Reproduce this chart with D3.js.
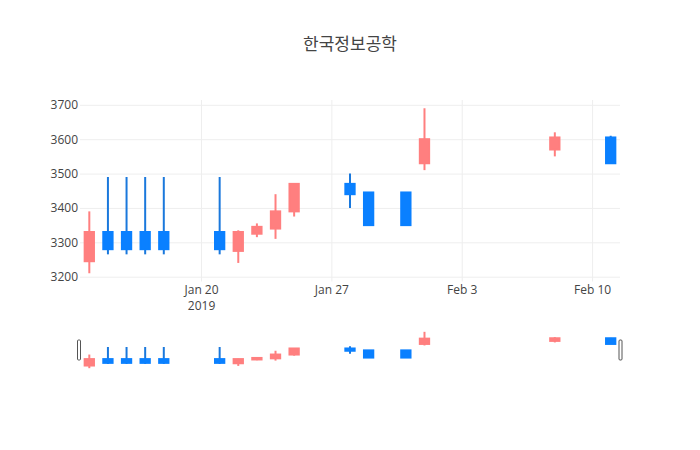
<!DOCTYPE html>
<html>
<head>
<meta charset="utf-8">
<script src="https://cdn.jsdelivr.net/npm/d3@7"></script>
<style>
  body { margin: 0; background: #fff; }
  text { font-family: "Open Sans", verdana, arial, sans-serif; }
</style>
</head>
<body>
<script>
// candlestick data
var dates = ['2019-01-14', '2019-01-15', '2019-01-16', '2019-01-17', '2019-01-18',
  '2019-01-21', '2019-01-22', '2019-01-23', '2019-01-24', '2019-01-25',
  '2019-01-28', '2019-01-29', '2019-01-31', '2019-02-01', '2019-02-08', '2019-02-11'];
var open  = [3245, 3330, 3330, 3330, 3330, 3330, 3275, 3325, 3340, 3390, 3470, 3445, 3445, 3530, 3570, 3605];
var high  = [3390, 3490, 3490, 3490, 3490, 3490, 3335, 3355, 3440, 3470, 3500, 3445, 3445, 3690, 3620, 3610];
var low   = [3210, 3265, 3265, 3265, 3265, 3265, 3240, 3315, 3310, 3375, 3400, 3350, 3350, 3510, 3550, 3530];
var close = [3330, 3280, 3280, 3280, 3280, 3280, 3330, 3345, 3390, 3470, 3440, 3350, 3350, 3600, 3605, 3530];

var xTicks = ['2019-01-20', '2019-01-27', '2019-02-03', '2019-02-10'];
var yTicks = [3200, 3300, 3400, 3500, 3600, 3700];

var width = 700, height = 450;
var margin = {left: 80, right: 80, top: 100};
var plotBottom = 281.5;
var slider = {top: 330, bottom: 370};

var upColor = '#ff7f7f', downLine = '#1a78dc', downFill = '#0a80ff';

var parse = d3.utcParse('%Y-%m-%d');
var data = dates.map(function(d, i) {
  return {date: parse(d), open: open[i], high: high[i], low: low[i], close: close[i]};
});

var day = 864e5;
var xScale = d3.scaleUtc()
  .domain([new Date(+parse(dates[0]) - day / 2), new Date(+parse(dates[dates.length - 1]) + day / 2)])
  .range([margin.left, width - margin.right]);

var yScale = d3.scaleLinear().domain([3186, 3714]).range([plotBottom, margin.top]);
var ySlider = d3.scaleLinear().domain([3186, 3714]).range([slider.bottom, slider.top]);

var svg = d3.select('body').append('svg')
  .attr('width', width)
  .attr('height', height);

// title
svg.append('text')
  .attr('x', width / 2)
  .attr('y', 50)
  .attr('text-anchor', 'middle')
  .attr('fill', '#444')
  .style('font-family', '"Noto Sans CJK KR", "Open Sans", sans-serif')
  .style('font-size', '17px')
  .text('한국정보공학');

// grid lines
svg.append('g')
  .attr('transform', 'translate(0,' + plotBottom + ')')
  .call(d3.axisBottom(xScale).tickValues(xTicks.map(parse)).tickSize(-(plotBottom - margin.top)).tickFormat(''))
  .call(function(g) {
    g.select('.domain').remove();
    g.selectAll('line').attr('stroke', '#eee');
  });

svg.append('g')
  .attr('transform', 'translate(' + margin.left + ',0)')
  .call(d3.axisLeft(yScale).tickValues(yTicks).tickSize(-(width - margin.left - margin.right)).tickFormat(''))
  .call(function(g) {
    g.select('.domain').remove();
    g.selectAll('line').attr('stroke', '#eee');
  });

// Y axis labels
svg.append('g')
  .attr('transform', 'translate(' + (margin.left - 2) + ',0)')
  .call(d3.axisLeft(yScale).tickValues(yTicks).tickSize(0).tickPadding(0).tickFormat(d3.format('d')))
  .call(function(g) {
    g.select('.domain').remove();
    g.selectAll('text').attr('fill', '#444').style('font-size', '12px');
  });

// X axis labels
var fmt = d3.utcFormat('%b %-d');
svg.append('g')
  .attr('transform', 'translate(0,' + plotBottom + ')')
  .call(d3.axisBottom(xScale).tickValues(xTicks.map(parse)).tickSize(0).tickPadding(4).tickFormat(fmt))
  .call(function(g) {
    g.select('.domain').remove();
    g.selectAll('text').attr('fill', '#444').style('font-size', '12px');
    g.selectAll('.tick').filter(function(d, i) { return i === 0; })
      .select('text')
      .append('tspan')
      .attr('x', 0)
      .attr('dy', '1.35em')
      .text('2019');
  });

var bodyW = 0.5 * (xScale(new Date(day)) - xScale(new Date(0)));

function drawCandles(g, y) {
  var c = g.selectAll('g.candle')
    .data(data)
    .enter()
    .append('g')
    .attr('class', 'candle');

  c.append('line')
    .attr('x1', function(d) { return xScale(d.date); })
    .attr('x2', function(d) { return xScale(d.date); })
    .attr('y1', function(d) { return y(d.high); })
    .attr('y2', function(d) { return y(d.low); })
    .attr('stroke', function(d) { return d.close >= d.open ? upColor : downLine; })
    .attr('stroke-width', 2);

  c.append('rect')
    .attr('x', function(d) { return xScale(d.date) - bodyW / 2; })
    .attr('width', bodyW)
    .attr('y', function(d) { return y(Math.max(d.open, d.close)); })
    .attr('height', function(d) { return Math.abs(y(d.open) - y(d.close)); })
    .attr('fill', function(d) { return d.close >= d.open ? upColor : downFill; })
    .attr('stroke', function(d) { return d.close >= d.open ? upColor : downFill; })
    .attr('stroke-width', 2);
}

drawCandles(svg.append('g'), yScale);

// range slider
var rs = svg.append('g');
drawCandles(rs, ySlider);

var hH = (slider.bottom - slider.top) / 2;
[margin.left - 2.5, width - margin.right - 1].forEach(function(x) {
  rs.append('rect')
    .attr('x', x)
    .attr('y', slider.top + hH / 2)
    .attr('width', 3)
    .attr('height', hH)
    .attr('rx', 1)
    .attr('fill', '#fff')
    .attr('stroke', '#555')
    .attr('stroke-width', 1);
});
</script>
</body>
</html>
